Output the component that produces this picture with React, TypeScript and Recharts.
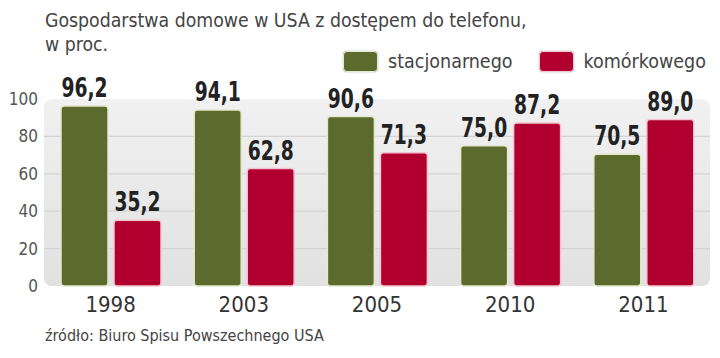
import React from 'react';
import { BarChart, Bar, XAxis, YAxis, CartesianGrid, LabelList, Legend } from 'recharts';

const years = ['1998', '2003', '2005', '2010', '2011'];
const stacjonarnego = [96.2, 94.1, 90.6, 75.0, 70.5];
const komorkowego = [35.2, 62.8, 71.3, 87.2, 89.0];
const yTicks = [0, 20, 40, 60, 80, 100];
const seriesNames = ['stacjonarnego', 'komórkowego'];
const title1 = 'Gospodarstwa domowe w USA z dostępem do telefonu,';
const title2 = 'w proc.';
const source = 'źródło: Biuro Spisu Powszechnego USA';

const data = years.map((y, i) => ({ year: y, s: stacjonarnego[i], k: komorkowego[i] }));

const GREEN = '#5d6a2e';
const RED = '#b1002f';
const NARROW = '"DejaVu Sans Condensed", "Liberation Sans", sans-serif';

const fmt = (v: any) => Number(v).toFixed(1).replace('.', ',');

const ValueLabel = (props: any) => {
  const { x, y, width, value } = props;
  const cx = Number(x) + Number(width) / 2;
  const by = Number(y) - 9;
  return (
    <text
      transform={`translate(${cx} ${by}) scale(0.8 1)`}
      x={0}
      y={0}
      textAnchor="middle"
      fontFamily={NARROW}
      fontSize={26}
      fontWeight={700}
      fill="#222"
    >
      {fmt(value)}
    </text>
  );
};

const LegendContent = () => (
  <div style={{ display: 'flex', alignItems: 'center', fontFamily: NARROW, fontSize: 19.5, color: '#444', whiteSpace: 'nowrap' }}>
    {[GREEN, RED].map((c, i) => (
      <div key={i} style={{ display: 'flex', alignItems: 'center', marginRight: i === 0 ? 26 : 0 }}>
        <div style={{ width: 33, height: 19, background: c, borderRadius: 4, border: `1.5px solid ${i === 0 ? '#e6ead0' : '#f2c9d2'}`, boxShadow: '0 0 2px rgba(0,0,0,0.3)', marginRight: 10 }} />
        <span>{seriesNames[i]}</span>
      </div>
    ))}
  </div>
);

export default function App() {
  return (
    <div style={{ position: 'absolute', left: 0, top: 0, width: 720, height: 358, background: '#fff', overflow: 'hidden' }}>
      <div style={{ position: 'absolute', left: 45, top: 9, fontFamily: NARROW, fontSize: 19.3, color: '#444', lineHeight: '24px', whiteSpace: 'nowrap' }}>
        <div>{title1}</div>
        <div>{title2}</div>
      </div>
      <BarChart width={720} height={358} data={data} margin={{ top: 99, right: 10, bottom: 40, left: 0 }} barSize={47} barGap={6}>
        <defs>
          <linearGradient id="bgGrad" x1="0" y1="0" x2="0" y2="1">
            <stop offset="0%" stopColor="#f1f1f1" />
            <stop offset="100%" stopColor="#e1e1e1" />
          </linearGradient>
        </defs>
        <CartesianGrid vertical={false} fill="url(#bgGrad)" ry={8} stroke="#d3d3d3" strokeWidth={1.2} horizontalValues={[20, 40, 60, 80]} />
        <XAxis dataKey="year" axisLine={false} tickLine={false} height={32} tickMargin={4} tick={{ fontFamily: NARROW, fontSize: 22, fill: '#333' }} />
        <YAxis domain={[0, 100]} ticks={yTicks} axisLine={false} tickLine={false} width={44} tickMargin={0} tick={{ fontFamily: NARROW, fontSize: 17, fill: '#555' }} />
        <Legend verticalAlign="middle" align="center" layout="horizontal" content={<LegendContent />} wrapperStyle={{ top: 50, left: 343, width: 'auto' }} />
        <Bar dataKey="s" name={seriesNames[0]} fill={GREEN} stroke="#e4e8cc" strokeWidth={1.5} radius={3} isAnimationActive={false}>
          <LabelList dataKey="s" content={<ValueLabel />} />
        </Bar>
        <Bar dataKey="k" name={seriesNames[1]} fill={RED} stroke="#f3c6d1" strokeWidth={1.5} radius={3} isAnimationActive={false}>
          <LabelList dataKey="k" content={<ValueLabel />} />
        </Bar>
      </BarChart>
      <div style={{ position: 'absolute', left: 45, top: 326, fontFamily: NARROW, fontSize: 16, color: '#444', whiteSpace: 'nowrap' }}>{source}</div>
    </div>
  );
}
